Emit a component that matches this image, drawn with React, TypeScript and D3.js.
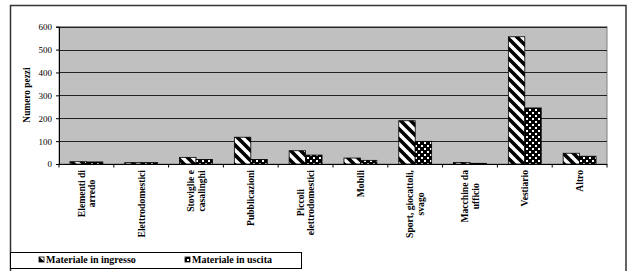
import React, { useEffect, useRef } from "react";
import * as d3 from "d3";

const categories: string[][] = [
  ["Elementi di", "arredo"],
  ["Elettrodomestici"],
  ["Stoviglie e", "casalinghi"],
  ["Pubblicazioni"],
  ["Piccoli", "elettrodomestici"],
  ["Mobili"],
  ["Sport, giocattoli,", "svago"],
  ["Macchine da", "ufficio"],
  ["Vestiario"],
  ["Altro"],
];
const ingresso = [10, 6, 29, 117, 58, 26, 189, 7, 556, 47];
const uscita = [9, 6, 20, 20, 39, 16, 99, 3, 245, 34];
const seriesNames = ["Materiale in ingresso", "Materiale in uscita"];
const yTicks = [0, 100, 200, 300, 400, 500, 600];
const yTitle = "Numero pezzi";

const W = 628;
const H = 271;
const FONT = "'Liberation Serif', 'Times New Roman', serif";

export default function App() {
  const ref = useRef<SVGSVGElement | null>(null);

  useEffect(() => {
    const svg = d3.select(ref.current);
    svg.selectAll("*").remove();

    const defs = svg.append("defs");
    const T = 10;
    const p1 = defs
      .append("pattern")
      .attr("id", "stripes")
      .attr("patternUnits", "userSpaceOnUse")
      .attr("width", T)
      .attr("height", T);
    p1.append("rect").attr("width", T).attr("height", T).attr("fill", "#fff");
    p1.append("path")
      .attr("d", `M${-T / 2},${T / 2} L${T / 2},${T * 1.5} M0,0 L${T},${T} M${T / 2},${-T / 2} L${T * 1.5},${T / 2}`)
      .attr("stroke", "#000")
      .attr("stroke-width", 3.6);

    const p2 = defs
      .append("pattern")
      .attr("id", "dots")
      .attr("patternUnits", "userSpaceOnUse")
      .attr("width", 6)
      .attr("height", 6);
    p2.append("rect").attr("width", 6).attr("height", 6).attr("fill", "#000");
    p2.append("rect").attr("x", 1).attr("y", 1).attr("width", 2).attr("height", 2).attr("fill", "#fff");
    p2.append("rect").attr("x", 4).attr("y", 4).attr("width", 2).attr("height", 2).attr("fill", "#fff");

    const fills = ["url(#stripes)", "url(#dots)"];

    // outer frame
    svg.append("rect")
      .attr("x", 10.5).attr("y", 5.5).attr("width", 615.5).attr("height", 280)
      .attr("fill", "#fff").attr("stroke", "#333").attr("stroke-width", 1.5);

    const left = 59, right = 607, top = 26.7, bottom = 164;
    const x = d3.scaleBand<number>().domain(d3.range(categories.length)).range([left, right]).paddingInner(0).paddingOuter(0);
    const bw = x.bandwidth();
    const x1 = d3.scaleBand<number>().domain([0, 1]).range([bw * 0.2, bw * 0.8]).padding(0);
    const y = d3.scaleLinear().domain([0, 600]).range([bottom, top]);

    // plot area
    svg.append("rect")
      .attr("x", left).attr("y", top).attr("width", right - left).attr("height", bottom - top)
      .attr("fill", "#c0c0c0").attr("stroke", "#808080").attr("stroke-width", 1);

    // gridlines
    svg.append("g").selectAll("line").data(yTicks.filter((t) => t > 0)).join("line")
      .attr("x1", left).attr("x2", right)
      .attr("y1", (d) => Math.round(y(d)) + 0.5).attr("y2", (d) => Math.round(y(d)) + 0.5)
      .attr("stroke", "#222").attr("stroke-width", 1);

    // bars
    const data = [ingresso, uscita];
    data.forEach((vals, si) => {
      svg.append("g").selectAll("rect").data(vals).join("rect")
        .attr("x", (_d, i) => (x(i) as number) + (x1(si) as number))
        .attr("y", (d) => y(d))
        .attr("width", x1.bandwidth())
        .attr("height", (d) => bottom - y(d))
        .attr("fill", fills[si])
        .attr("stroke", "#000").attr("stroke-width", 0.8);
    });

    // axes
    const yAxis = d3.axisLeft(y).tickValues(yTicks).tickSize(3).tickPadding(4).tickFormat(d3.format("d"));
    const gy = svg.append("g").attr("transform", `translate(${left},0)`).call(yAxis);
    gy.select(".domain").attr("stroke", "#000");
    gy.selectAll("line").attr("stroke", "#000");
    gy.selectAll("text").attr("font-family", FONT).attr("font-size", 9).attr("fill", "#000");

    svg.append("line").attr("x1", left).attr("x2", right).attr("y1", bottom + 0.5).attr("y2", bottom + 0.5)
      .attr("stroke", "#000");
    svg.append("g").selectAll("line").data(d3.range(categories.length + 1)).join("line")
      .attr("x1", (i) => left + i * bw).attr("x2", (i) => left + i * bw)
      .attr("y1", bottom).attr("y2", bottom + 3.5).attr("stroke", "#000");

    // category labels
    const lineH = 10.5;
    categories.forEach((lines, i) => {
      const cx = (x(i) as number) + bw / 2;
      const g = svg.append("g").attr("transform", `translate(${cx},170) rotate(-90)`);
      const texts = lines.map((ln, li) =>
        g.append("text")
          .attr("y", (li - (lines.length - 1) / 2) * lineH)
          .attr("dy", "0.35em")
          .attr("text-anchor", "middle")
          .attr("font-family", FONT).attr("font-size", 9.6).attr("font-weight", "bold")
          .text(ln)
      );
      const L = Math.max(...texts.map((t) => (t.node() as SVGTextElement).getComputedTextLength()));
      texts.forEach((t) => t.attr("x", -L / 2));
    });

    // y title
    svg.append("text")
      .attr("transform", `translate(27,95) rotate(-90)`)
      .attr("dy", "0.35em")
      .attr("text-anchor", "middle")
      .attr("font-family", FONT).attr("font-size", 9.4).attr("font-weight", "bold")
      .text(yTitle);

    // legend
    svg.append("rect").attr("x", 10.5).attr("y", 252.5).attr("width", 291).attr("height", 16)
      .attr("fill", "#fff").attr("stroke", "#000").attr("stroke-width", 1);
    const lx = [39, 185];
    seriesNames.forEach((name, si) => {
      svg.append("rect").attr("x", lx[si]).attr("y", 257).attr("width", 5).attr("height", 5)
        .attr("fill", fills[si]).attr("stroke", "#000").attr("stroke-width", 0.8);
      svg.append("text").attr("x", lx[si] + 7).attr("y", 263)
        .attr("font-family", FONT).attr("font-size", 10).attr("font-weight", "bold")
        .text(name);
    });
  }, []);

  return (
    <svg
      ref={ref}
      width={W}
      height={H}
      style={{ position: "absolute", left: 0, top: 0, background: "#fff" }}
    />
  );
}
